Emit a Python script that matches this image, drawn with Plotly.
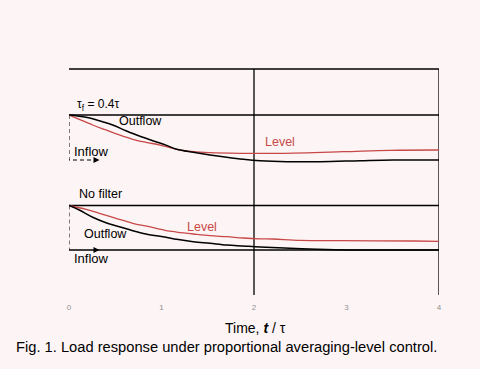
import plotly.graph_objects as go
from plotly.subplots import make_subplots

# ---- data (time in units of tau, response normalised to inflow step) ----
tick_vals = [0, 1, 2, 3, 4]
tick_text = ["0", "1", "2", "3", "4"]

# upper panel: filtered (tau_f = 0.4 tau)
filt_out_t = [0, 0.184, 0.328, 0.472, 0.616, 0.76, 0.905, 1.049, 1.164, 1.344, 1.524,
              1.705, 1.884, 2.065, 2.357, 2.714, 3.146, 3.503, 4.0]
filt_out_y = [0, -0.051, -0.127, -0.222, -0.349, -0.467, -0.571, -0.67, -0.762, -0.829, -0.889,
              -0.94, -0.984, -1.016, -1.038, -1.038, -1.016, -1.0, -1.0]
filt_lvl_t = [0, 0.111, 0.256, 0.4, 0.544, 0.689, 0.832, 0.984, 1.164, 1.344, 1.524,
              1.849, 2.281, 2.962, 3.47, 4.0]
filt_lvl_y = [0, -0.096, -0.222, -0.333, -0.444, -0.54, -0.607, -0.667, -0.762, -0.816, -0.838,
              -0.851, -0.851, -0.816, -0.784, -0.778]
filt_in_t = [0, 0, 0.3]
filt_in_y = [0, -1, -1]

# lower panel: no filter
raw_out_t = [0, 0.111, 0.256, 0.4, 0.544, 0.689, 0.832, 1.049, 1.164, 1.344, 1.524,
             1.705, 1.884, 2.065, 2.389, 2.681, 3.038, 4.0]
raw_out_y = [0, -0.101, -0.265, -0.387, -0.476, -0.566, -0.64, -0.715, -0.76, -0.813, -0.849,
             -0.888, -0.91, -0.933, -0.962, -0.984, -1.0, -1.0]
raw_lvl_t = [0, 0.184, 0.328, 0.508, 0.689, 0.868, 1.049, 1.164, 1.344, 1.524, 1.705,
             1.884, 2.065, 2.205, 2.497, 2.93, 3.719, 4.0]
raw_lvl_y = [0, -0.085, -0.175, -0.288, -0.4, -0.476, -0.562, -0.596, -0.64, -0.679, -0.701,
             -0.73, -0.748, -0.753, -0.782, -0.791, -0.798, -0.804]
raw_in_t = [0, 0]
raw_in_y = [0, -1]

# inflow arrow-head positions
arrow_t = [0.33]
arrow_y = [-1]

BLACK = "#000000"
RED = "#C84848"
BG = "#FDF5F5"
FONT = "Liberation Sans, Arial, sans-serif"

fig = make_subplots(rows=2, cols=1, shared_xaxes=True, vertical_spacing=0,
                    row_heights=[0.5044, 0.4956])

def add(t, y, color, width, row, dash="solid", shape="spline"):
    fig.add_trace(go.Scatter(x=t, y=y, mode="lines", showlegend=False, hoverinfo="skip",
                             line=dict(color=color, width=width, dash=dash, shape=shape)),
                  row=row, col=1)

add(filt_in_t, filt_in_y, BLACK, 1, 1, dash="4px,3px", shape="linear")
add(filt_lvl_t, filt_lvl_y, RED, 1.3, 1)
add(filt_out_t, filt_out_y, BLACK, 1.5, 1)
add(raw_in_t, raw_in_y, BLACK, 1, 2, dash="4px,3px", shape="linear")
add(raw_lvl_t, raw_lvl_y, RED, 1.3, 2)
add(raw_out_t, raw_out_y, BLACK, 1.5, 2)

for row in (1, 2):
    fig.add_trace(go.Scatter(x=arrow_t, y=arrow_y, mode="markers", showlegend=False,
                             hoverinfo="skip",
                             marker=dict(symbol="arrow-right", size=6, color=BLACK)),
                  row=row, col=1)

# frame lines
LW = 1.3
shapes = [
    dict(type="line", xref="x", yref="y domain", x0=0, x1=4, y0=1, y1=1),
    dict(type="line", xref="x", yref="y", x0=0, x1=4, y0=0, y1=0),
    dict(type="line", xref="x2", yref="y2", x0=0, x1=4, y0=0, y1=0),
    dict(type="line", xref="x2", yref="y2", x0=0, x1=4, y0=-1, y1=-1),
    dict(type="line", xref="x", yref="paper", x0=2, x1=2, y0=0, y1=1),
    dict(type="line", xref="x", yref="paper", x0=4, x1=4, y0=0, y1=1),
]
for s in shapes:
    s["line"] = dict(color=BLACK, width=LW)
    s["layer"] = "below"
fig.update_layout(shapes=shapes)

def txt(text, x, y, xref, yref, color=BLACK, size=12, xanchor="left"):
    fig.add_annotation(text=text, x=x, y=y, xref=xref, yref=yref, showarrow=False,
                       font=dict(color=color, size=size, family=FONT),
                       xanchor=xanchor, yanchor="middle")

txt("τ<sub>f</sub> = 0.4τ", 0.06, 0.23, "x", "y", size=12)
txt("Outflow", 0.52, -0.14, "x", "y", size=12.5)
txt("Inflow", 0.035, -0.82, "x", "y", size=13)
txt("Level", 2.1, -0.6, "x", "y", color=RED, size=12.5)
txt("No filter", 0.09, 0.25, "x2", "y2", size=12.5)
txt("Outflow", 0.145, -0.63, "x2", "y2", size=12.5)
txt("Inflow", 0.035, -1.2, "x2", "y2", size=13)
txt("Level", 1.25, -0.48, "x2", "y2", color=RED, size=12.5)

txt("Time, <i><b>t</b></i> / τ", 2.02, -0.148, "x2", "paper", size=14, xanchor="center")
txt("Fig. 1. Load response under proportional averaging-level control.", 0.427, -0.228,
    "paper", "paper", size=14.7, xanchor="center")

fig.update_xaxes(range=[0, 4], showgrid=False, zeroline=False, showline=False,
                 tickvals=tick_vals, ticktext=tick_text, ticks="",
                 tickfont=dict(size=8, color="#909090", family=FONT))
fig.update_xaxes(showticklabels=False, row=1, col=1)
fig.update_xaxes(ticklabelstandoff=6, row=2, col=1)
fig.update_yaxes(showgrid=False, zeroline=False, showline=False, showticklabels=False, ticks="")
fig.update_yaxes(range=[-1.511, 1.022], row=1, col=1)
fig.update_yaxes(range=[-2.011, 0.5056], row=2, col=1)

fig.update_layout(width=480, height=369, margin=dict(l=69, r=41, t=69, b=74),
                  paper_bgcolor=BG, plot_bgcolor=BG, showlegend=False,
                  font=dict(family=FONT))

fig.write_html("out.html", config={"displayModeBar": False},
               post_script="document.body.style.margin='0';"
                           "document.body.style.background='" + BG + "';")
